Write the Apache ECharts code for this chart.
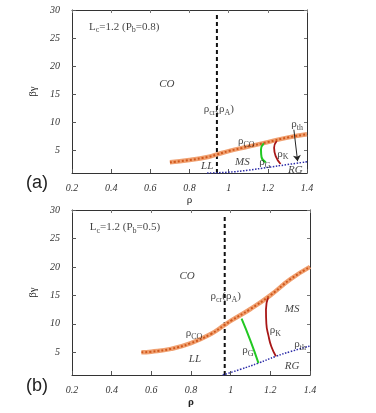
<!DOCTYPE html>
<html>
<head>
<meta charset="utf-8">
<script src="https://cdn.jsdelivr.net/npm/echarts@6/dist/echarts.min.js"></script>
<style>
  body { margin: 0; background: #fff; }
  #chart { width: 376px; height: 413px; }
</style>
</head>
<body>
<div id="chart"></div>
<script>
// tick labels
const xTicks = [0.2, 0.4, 0.6, 0.8, 1, 1.2, 1.4];
const yTicks = [5, 10, 15, 20, 25, 30];

// panel (a): Lc=1.2, Pb=0.8
const crA = 0.94;
const coA = [[0.7, 2.9], [0.8, 3.3], [0.9, 3.9], [0.94, 4.3], [1.0, 4.9], [1.1, 5.7], [1.2, 6.5], [1.3, 7.3], [1.4, 7.9]];
const thA = [[0.89, 1.0], [1.0, 1.15], [1.1, 1.5], [1.2, 2.0], [1.3, 2.5], [1.4, 3.0]];
const gA = [[1.18, 6.3], [1.165, 5.2], [1.168, 3.8], [1.19, 2.9]];
const kA = [[1.245, 6.7], [1.232, 5.5], [1.24, 4.0], [1.265, 2.6]];
const arrowA = [[1.333, 8.7], [1.352, 3.1]];
const labelsA = [
  [0.467, 27.0, 'L{s|c}=1.2 (P{s|b}=0.8)'],
  [0.684, 16.9, '{i|CO}'],
  [0.95, 12.3, 'ρ{s|cr}(ρ{s|A})'],
  [1.09, 6.6, 'ρ{s|CO}'],
  [0.89, 2.2, '{i|LL}'],
  [1.07, 3.0, '{i|MS}'],
  [1.185, 2.85, 'ρ{s|G}'],
  [1.277, 4.4, 'ρ{s|K}'],
  [1.34, 1.5, '{i|RG}'],
  [1.35, 9.7, 'ρ{s|th}']
];

// panel (b): Lc=1.2, Pb=0.5
const crB = 0.97;
const coB = [[0.55, 5.0], [0.6, 5.1], [0.7, 5.6], [0.8, 6.6], [0.9, 8.2], [0.97, 9.8], [1.0, 10.5], [1.1, 12.6], [1.2, 15.0], [1.3, 17.8], [1.4, 20.0]];
const thB = [[0.96, 1.0], [1.05, 2.0], [1.14, 3.1], [1.23, 4.3], [1.3, 5.1], [1.4, 6.1]];
const gB = [[1.055, 10.9], [1.1, 7.0], [1.14, 3.1]];
const kB = [[1.19, 14.8], [1.178, 12.5], [1.18, 10], [1.19, 8], [1.205, 6], [1.228, 4.3]];
const labelsB = [
  [0.467, 27.0, 'L{s|c}=1.2 (P{s|b}=0.5)'],
  [0.78, 18.3, '{i|CO}'],
  [0.975, 14.8, 'ρ{s|cr}(ρ{s|A})'],
  [1.31, 12.5, '{i|MS}'],
  [1.225, 8.9, 'ρ{s|K}'],
  [0.815, 8.3, 'ρ{s|CO}'],
  [1.087, 5.4, 'ρ{s|G}'],
  [0.82, 3.8, '{i|LL}'],
  [1.35, 6.4, 'ρ{s|th}'],
  [1.31, 2.55, '{i|RG}']
];

const serif = '"Liberation Serif", "DejaVu Serif", serif';
const rich = {
  s: { fontSize: 8, fontFamily: serif, color: '#111', padding: [7, 0, 0, 0] },
  i: { fontSize: 11, fontFamily: serif, fontStyle: 'italic', color: '#111' }
};

function xAxisFor(gi, nameText) {
  return [{
    gridIndex: gi, type: 'value', min: 0.2, max: 1.4, interval: 0.2,
    name: nameText, nameLocation: 'middle', nameGap: 22,
    nameTextStyle: { fontFamily: serif, fontSize: 11, color: '#222', fontWeight: gi ? 'bold' : 'normal' },
    axisLine: { lineStyle: { color: '#333', width: 1 } },
    axisTick: { inside: true, length: 4, lineStyle: { color: '#555' } },
    axisLabel: {
      customValues: xTicks, fontFamily: serif, fontStyle: 'italic', fontSize: 10, color: '#333', margin: 10,
      formatter: v => String(Math.round(v * 10) / 10)
    },
    splitLine: { show: false }
  }, {
    gridIndex: gi, type: 'value', min: 0.2, max: 1.4, interval: 0.2, position: 'top',
    axisLine: { lineStyle: { color: '#333' } },
    axisTick: { inside: true, length: 3, lineStyle: { color: '#777' } },
    axisLabel: { show: false }, splitLine: { show: false }
  }];
}

function yAxisFor(gi) {
  return [{
    gridIndex: gi, type: 'value', min: 1, max: 30,
    name: 'βγ', nameLocation: 'middle', nameGap: 30,
    nameTextStyle: { fontFamily: serif, fontSize: 11, color: '#222' },
    axisLine: { lineStyle: { color: '#333', width: 1 } },
    axisTick: { inside: true, length: 4, customValues: yTicks, lineStyle: { color: '#555' } },
    axisLabel: { customValues: yTicks, fontFamily: serif, fontStyle: 'italic', fontSize: 10, color: '#333', margin: 12 },
    splitLine: { show: false }
  }, {
    gridIndex: gi, type: 'value', min: 1, max: 30, position: 'right',
    axisLine: { lineStyle: { color: '#333' } },
    axisTick: { inside: true, length: 3, customValues: yTicks, lineStyle: { color: '#777' } },
    axisLabel: { show: false }, splitLine: { show: false }
  }];
}

function panelSeries(axisIdx, cr, co, th, g, k, labels, arrow) {
  const base = { xAxisIndex: axisIdx, yAxisIndex: axisIdx, type: 'line', symbol: 'none', silent: true, animation: false };
  const list = [
    Object.assign({}, base, { data: [[cr, 1], [cr, 29.1]], lineStyle: { color: '#111', width: 2, type: [4, 3] }, z: 3 }),
    Object.assign({}, base, { data: co, smooth: true, lineStyle: { color: '#f0a070', width: 4.5 }, z: 4 }),
    Object.assign({}, base, { data: co, smooth: true, lineStyle: { color: '#d0581c', width: 2, type: [2, 2] }, z: 5 }),
    Object.assign({}, base, { data: th, smooth: true, lineStyle: { color: '#2c2ca8', width: 1.5, type: [1.5, 1.5] }, z: 4 }),
    Object.assign({}, base, { data: g, smooth: true, lineStyle: { color: '#22c822', width: 2 }, z: 4 }),
    Object.assign({}, base, { data: k, smooth: true, lineStyle: { color: '#a81616', width: 1.8 }, z: 4 }),
    {
      type: 'scatter', xAxisIndex: axisIdx, yAxisIndex: axisIdx, symbolSize: 0, silent: true, animation: false, z: 6,
      data: labels.map(l => ({ value: [l[0], l[1]], name: l[2] })),
      label: {
        show: true, position: 'inside', formatter: p => p.name,
        fontFamily: serif, fontSize: 11, color: '#111', rich: rich
      }
    }
  ];
  if (arrow) {
    list.push(Object.assign({}, base, {
      data: [],
      markLine: {
        silent: true, animation: false, symbol: ['none', 'arrow'], symbolSize: 6, label: { show: false },
        lineStyle: { color: '#222', width: 1, type: 'solid' },
        data: [[{ coord: arrow[0] }, { coord: arrow[1] }]]
      }
    }));
  }
  return list;
}

const chart = echarts.init(document.getElementById('chart'));
chart.setOption({
  backgroundColor: '#fff',
  animation: false,
  grid: [
    { left: 72, top: 10, width: 235, height: 163 },
    { left: 72, top: 210, width: 238, height: 165 }
  ],
  xAxis: xAxisFor(0, 'ρ').concat(xAxisFor(1, 'ρ')).map((a, i) => a),
  yAxis: yAxisFor(0).concat(yAxisFor(1)),
  graphic: [
    { type: 'text', left: 26, top: 174, style: { text: '(a)', fontFamily: '"Liberation Sans", Arial, sans-serif', fontSize: 18, fill: '#222' } },
    { type: 'text', left: 26, top: 377, style: { text: '(b)', fontFamily: '"Liberation Sans", Arial, sans-serif', fontSize: 18, fill: '#222' } }
  ],
  series: panelSeries(0, crA, coA, thA, gA, kA, labelsA, arrowA)
    .concat(panelSeries(2, crB, coB, thB, gB, kB, labelsB, null))
});
</script>
</body>
</html>
